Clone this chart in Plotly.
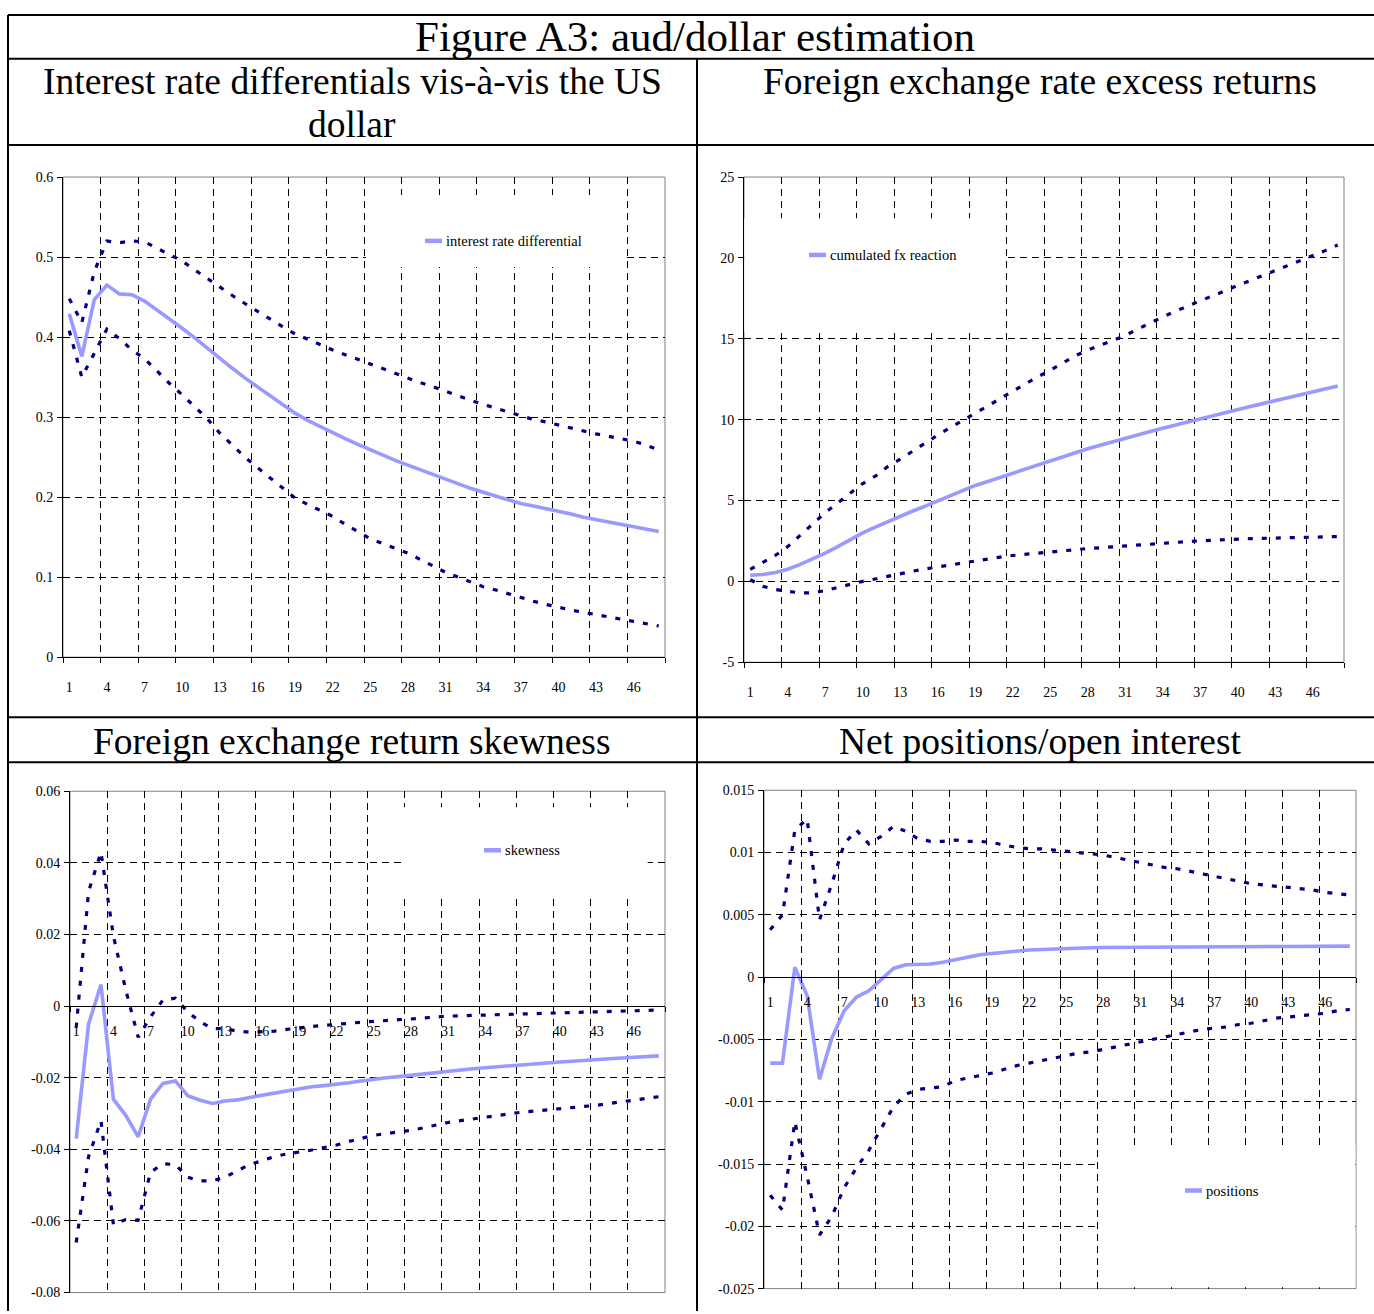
import plotly.graph_objects as go

W, H = 1374, 1314

# ---------------- DATA ----------------
periods = list(range(1, 49))
x_tick_vals = list(range(1, 49, 3))
x_tick_labels = [str(v) for v in x_tick_vals]

ird_mid = [0.429, 0.376, 0.447, 0.465, 0.454, 0.453, 0.445, 0.434, 0.422, 0.411,
           0.399, 0.386, 0.373, 0.361, 0.349, 0.338, 0.327, 0.316, 0.305, 0.296,
           0.288, 0.280, 0.273, 0.266, 0.259, 0.252, 0.246, 0.240, 0.234, 0.228,
           0.222, 0.217, 0.211, 0.206, 0.201, 0.197, 0.192, 0.189, 0.186, 0.182,
           0.179, 0.175, 0.172, 0.169, 0.166, 0.163, 0.160, 0.157]
ird_upper = [0.448, 0.418, 0.482, 0.520, 0.518, 0.520, 0.519, 0.511, 0.503, 0.495,
             0.484, 0.473, 0.463, 0.452, 0.442, 0.432, 0.422, 0.413, 0.404, 0.397,
             0.390, 0.384, 0.378, 0.372, 0.367, 0.361, 0.355, 0.349, 0.343, 0.338,
             0.332, 0.327, 0.321, 0.316, 0.311, 0.306, 0.301, 0.297, 0.294, 0.290,
             0.286, 0.283, 0.279, 0.276, 0.273, 0.270, 0.265, 0.259]
ird_lower = [0.408, 0.350, 0.380, 0.410, 0.398, 0.384, 0.373, 0.357, 0.342, 0.328,
             0.313, 0.298, 0.280, 0.265, 0.250, 0.237, 0.224, 0.211, 0.199, 0.191,
             0.184, 0.176, 0.166, 0.157, 0.148, 0.142, 0.136, 0.130, 0.122, 0.114,
             0.106, 0.100, 0.094, 0.088, 0.084, 0.079, 0.075, 0.070, 0.066, 0.062,
             0.059, 0.056, 0.053, 0.050, 0.047, 0.045, 0.042, 0.039]

fx_mid = [0.38, 0.42, 0.55, 0.75, 1.05, 1.38, 1.75, 2.15, 2.6, 3.0,
          3.35, 3.7, 4.05, 4.35, 4.65, 4.96, 5.3, 5.62, 5.93, 6.18,
          6.44, 6.69, 6.95, 7.2, 7.45, 7.7, 7.95, 8.2, 8.42, 8.64,
          8.86, 9.06, 9.26, 9.46, 9.66, 9.85, 10.04, 10.24, 10.44, 10.63,
          10.81, 10.99, 11.17, 11.35, 11.53, 11.71, 11.9, 12.08]
fx_upper = [0.74, 1.15, 1.6, 2.15, 2.85, 3.55, 4.25, 4.85, 5.45, 6.05,
            6.5, 7.1, 7.55, 8.05, 8.6, 9.05, 9.5, 9.95, 10.4, 10.85,
            11.35, 11.8, 12.2, 12.65, 13.05, 13.5, 13.95, 14.3, 14.6, 14.9,
            15.2, 15.6, 16.0, 16.35, 16.7, 17.05, 17.35, 17.65, 18.0, 18.3,
            18.6, 18.9, 19.2, 19.5, 19.85, 20.1, 20.45, 20.8]
fx_lower = [0.1, -0.3, -0.5, -0.63, -0.72, -0.7, -0.57, -0.37, -0.17, 0.0,
            0.15, 0.32, 0.48, 0.63, 0.77, 0.9, 1.03, 1.16, 1.28, 1.39,
            1.5, 1.6, 1.68, 1.75, 1.82, 1.89, 1.96, 2.03, 2.08, 2.14,
            2.19, 2.25, 2.31, 2.36, 2.41, 2.46, 2.51, 2.55, 2.59, 2.62,
            2.64, 2.66, 2.68, 2.7, 2.72, 2.74, 2.76, 2.77]

skew_mid = [-0.037, -0.005, 0.006, -0.026, -0.0305, -0.0365, -0.026, -0.0216, -0.0209, -0.025,
            -0.0263, -0.0272, -0.0265, -0.0262, -0.0255, -0.0249, -0.0242, -0.0235, -0.0229, -0.0225,
            -0.0222, -0.0219, -0.0214, -0.0209, -0.0204, -0.0200, -0.0197, -0.0193, -0.0189, -0.0185,
            -0.0181, -0.0178, -0.0175, -0.0172, -0.0169, -0.0166, -0.0164, -0.0161, -0.0158, -0.0156,
            -0.0154, -0.0151, -0.0149, -0.0147, -0.0145, -0.0143, -0.0141, -0.0139]
skew_upper = [-0.006, 0.032, 0.043, 0.0196, 0.0045, -0.0087, -0.003, 0.0017, 0.0022, -0.0016,
              -0.0044, -0.0063, -0.0063, -0.0070, -0.0073, -0.0072, -0.0070, -0.0065, -0.0060, -0.0057,
              -0.0054, -0.0052, -0.0048, -0.0045, -0.0042, -0.0040, -0.0038, -0.0036, -0.0033, -0.0031,
              -0.0028, -0.0027, -0.0026, -0.0025, -0.0024, -0.0022, -0.0021, -0.0020, -0.0018, -0.0017,
              -0.0016, -0.0015, -0.0015, -0.0014, -0.0013, -0.0012, -0.0011, -0.0011]
skew_lower = [-0.066, -0.042, -0.032, -0.061, -0.0596, -0.0598, -0.0464, -0.044, -0.0443, -0.0478,
              -0.0488, -0.0488, -0.0478, -0.046, -0.0442, -0.0432, -0.042, -0.0413, -0.0408, -0.0402,
              -0.0395, -0.0388, -0.0378, -0.0369, -0.0361, -0.0356, -0.0352, -0.0347, -0.034, -0.0332,
              -0.0325, -0.032, -0.0315, -0.0311, -0.0306, -0.0301, -0.0296, -0.0293, -0.029, -0.0287,
              -0.0284, -0.028, -0.0277, -0.0272, -0.0267, -0.0262, -0.0257, -0.0253]

pos_mid = [-0.0069, -0.0069, 0.0008, -0.0015, -0.0082, -0.0049, -0.0027, -0.0016, -0.0011, -0.0002,
           0.0007, 0.0010, 0.0010, 0.00105, 0.0012, 0.0014, 0.0016, 0.0018, 0.0019, 0.0020,
           0.00212, 0.00218, 0.00222, 0.00227, 0.0023, 0.00233, 0.00236, 0.00238, 0.00239, 0.0024,
           0.0024, 0.00241, 0.00241, 0.00242, 0.00242, 0.00243, 0.00243, 0.00244, 0.00244, 0.00245,
           0.00245, 0.00246, 0.00246, 0.00247, 0.00247, 0.00248, 0.00248, 0.00249]
pos_upper = [0.0038, 0.0050, 0.0118, 0.0127, 0.0046, 0.0075, 0.0107, 0.0118, 0.0107, 0.0113,
             0.0121, 0.0117, 0.0111, 0.0109, 0.0109, 0.0110, 0.0109, 0.0109, 0.0108, 0.0106,
             0.0104, 0.0103, 0.0103, 0.0102, 0.0101, 0.0100, 0.0099, 0.0098, 0.0096, 0.0094,
             0.0092, 0.0090, 0.0088, 0.0087, 0.0085, 0.0083, 0.0081, 0.0079, 0.0077, 0.0075,
             0.0074, 0.0073, 0.0072, 0.0071, 0.0070, 0.0068, 0.0067, 0.0066]
pos_lower = [-0.0175, -0.0187, -0.0116, -0.0160, -0.0207, -0.0192, -0.0169, -0.0153, -0.0139, -0.0121,
             -0.0104, -0.0094, -0.0090, -0.0089, -0.0088, -0.0083, -0.0081, -0.0079, -0.0077, -0.0074,
             -0.0071, -0.0069, -0.0067, -0.0065, -0.0063, -0.0061, -0.0060, -0.0058, -0.0056, -0.0054,
             -0.0052, -0.0050, -0.0048, -0.0046, -0.0044, -0.0042, -0.0041, -0.0040, -0.0038, -0.0037,
             -0.0035, -0.0033, -0.0032, -0.0031, -0.0030, -0.0029, -0.0027, -0.0026]

ird_yticks = [0, 0.1, 0.2, 0.3, 0.4, 0.5, 0.6]
ird_ylabels = ["0", "0.1", "0.2", "0.3", "0.4", "0.5", "0.6"]
fx_yticks = [-5, 0, 5, 10, 15, 20, 25]
fx_ylabels = ["-5", "0", "5", "10", "15", "20", "25"]
skew_yticks = [-0.08, -0.06, -0.04, -0.02, 0, 0.02, 0.04, 0.06]
skew_ylabels = ["-0.08", "-0.06", "-0.04", "-0.02", "0", "0.02", "0.04", "0.06"]
pos_yticks = [-0.025, -0.02, -0.015, -0.01, -0.005, 0, 0.005, 0.01, 0.015]
pos_ylabels = ["-0.025", "-0.02", "-0.015", "-0.01", "-0.005", "0", "0.005", "0.01", "0.015"]

figure_title = "Figure A3: aud/dollar estimation"
panel_titles = ["Interest rate differentials vis-à-vis the US", "dollar",
                "Foreign exchange rate excess returns",
                "Foreign exchange return skewness",
                "Net positions/open interest"]
legend_names = ["interest rate differential", "cumulated fx reaction", "skewness", "positions"]

# ---------------- STYLE / LAYOUT ----------------
FONT = "Liberation Serif"
MID_COLOR = "#9999FF"
BAND_COLOR = "#000080"


def fx(px):
    return px / W


def fy(py):
    return 1 - py / H


panels = [
    dict(box=(63, 665, 172, 657.7), yt=ird_yticks, yl=ird_ylabels, free=False,
         mid=ird_mid, up=ird_upper, lo=ird_lower, name=legend_names[0],
         legbox=(24.65, 45.4, 0.4875, 0.5775), leg=(425, 236.6)),
    dict(box=(744, 1344, 172, 662.8), yt=fx_yticks, yl=fx_ylabels, free=False,
         mid=fx_mid, up=fx_upper, lo=fx_lower, name=legend_names[1],
         legbox=(0.52, 21.4, 15.4, 22.45), leg=(809, 250.8)),
    dict(box=(70, 665, 793.3, 1300.4), yt=skew_yticks, yl=skew_ylabels, free=True,
         mid=skew_mid, up=skew_upper, lo=skew_lower, name=legend_names[2],
         legbox=(27.3, 47.1, 0.030, 0.0555), leg=(484, 853)),
    dict(box=(764, 1356, 792.3, 1296.4), yt=pos_yticks, yl=pos_ylabels, free=True,
         mid=pos_mid, up=pos_upper, lo=pos_lower, name=legend_names[3],
         legbox=(27.6, 48.45, -0.0249, -0.0135), leg=(1185, 1197.2)),
]

fig = go.Figure()
shapes = []
annotations = []
layout_axes = {}

for i, p in enumerate(panels, start=1):
    sx = "" if i == 1 else str(i)
    xr, yr = "x" + sx, "y" + sx
    l, r, t, b = p["box"]
    xdom = [fx(l), fx(r)]
    ydom = [fy(b), fy(t)]
    ymin, ymax = p["yt"][0], p["yt"][-1]

    for band in (p["up"], p["lo"]):
        fig.add_trace(go.Scatter(x=periods, y=band, mode="lines", xaxis=xr, yaxis=yr,
                                 line=dict(color=BAND_COLOR, width=3.2, dash="5px,9px"),
                                 showlegend=False, hoverinfo="skip"))
    fig.add_trace(go.Scatter(x=periods, y=p["mid"], mode="lines", xaxis=xr, yaxis=yr,
                             name=p["name"], line=dict(color=MID_COLOR, width=3.6),
                             showlegend=False))

    xa = dict(domain=xdom, range=[0.5, 48.5], tickmode="array", tickvals=x_tick_vals,
              ticktext=x_tick_labels, ticks="", showgrid=False, zeroline=False,
              showline=True, linecolor="black", linewidth=1,
              tickfont=dict(family=FONT, size=14, color="black"),
              minor=dict(tick0=0.5, dtick=3, ticks="outside", ticklen=5,
                         tickcolor="black", showgrid=True, gridcolor="black",
                         griddash="7px,5px", gridwidth=1),
              fixedrange=True)
    if p["free"]:
        zero_pos = ydom[0] + (0 - ymin) / (ymax - ymin) * (ydom[1] - ydom[0])
        xa.update(anchor="free", position=zero_pos, ticklabelstandoff=12)
    else:
        xa.update(anchor=yr, ticklabelstandoff=17)
    ya = dict(domain=ydom, anchor=xr, range=[ymin, ymax], tickmode="array",
              tickvals=p["yt"], ticktext=p["yl"], ticks="outside", ticklen=5,
              tickcolor="black", showgrid=True, gridcolor="black", griddash="7px,5px",
              gridwidth=1, zeroline=False, showline=True, linecolor="black", linewidth=1,
              tickfont=dict(family=FONT, size=14, color="black"), ticklabelstandoff=1,
              fixedrange=True)
    layout_axes["xaxis" + sx] = xa
    layout_axes["yaxis" + sx] = ya

    shapes.append(dict(type="rect", xref=xr + " domain", yref=yr + " domain",
                       x0=0, x1=1, y0=0, y1=1, line=dict(color="#808080", width=1),
                       layer="below"))
    bx0, bx1, by0, by1 = p["legbox"]
    shapes.append(dict(type="rect", xref=xr, yref=yr, x0=bx0, x1=bx1, y0=by0, y1=by1,
                       fillcolor="white", line=dict(width=0), layer="between"))
    lx, ly = p["leg"]
    shapes.append(dict(type="line", xref="paper", yref="paper", x0=fx(lx), x1=fx(lx + 17),
                       y0=fy(ly), y1=fy(ly), line=dict(color=MID_COLOR, width=4.5)))
    annotations.append(dict(text=p["name"], xref="paper", yref="paper", x=fx(lx + 19),
                            y=fy(ly), xanchor="left", yanchor="middle", showarrow=False,
                            font=dict(family=FONT, size=14.5, color="black")))

BL = dict(color="black", width=2)
for (x0, y0, x1, y1) in [
    (8, 8, W + 5, 8), (8, 52.4, W + 5, 52.4), (8, 139.5, W + 5, 139.5),
    (8, 718.4, W + 5, 718.4), (8, 764, W + 5, 764),
    (8, 8, 8, H + 5), (697, 52.4, 697, H + 5)]:
    shapes.append(dict(type="line", xref="paper", yref="paper", x0=fx(x0), x1=fx(x1),
                       y0=fy(y0), y1=fy(y1), line=BL))

for text, cx, cy, size in [
    (figure_title, 695, 30.2, 43),
    (panel_titles[0], 352, 75.7, 37.5), (panel_titles[1], 352, 119.2, 37.5),
    (panel_titles[2], 1040, 75.7, 37.5),
    (panel_titles[3], 352, 742.7, 37.5), (panel_titles[4], 1040, 742.7, 37.5)]:
    annotations.append(dict(text=text, xref="paper", yref="paper", x=fx(cx), y=fy(cy),
                            xanchor="center", yanchor="middle", showarrow=False,
                            font=dict(family=FONT, size=size, color="black")))

fig.update_layout(width=W, height=H, margin=dict(l=0, r=0, t=0, b=0),
                  paper_bgcolor="white", plot_bgcolor="white", showlegend=False,
                  shapes=shapes, annotations=annotations,
                  font=dict(family=FONT, color="black"), **layout_axes)

fig.write_html("out.html", config={"displayModeBar": False},
               post_script="document.body.style.margin='0';"
                           "document.body.style.overflow='hidden';")
